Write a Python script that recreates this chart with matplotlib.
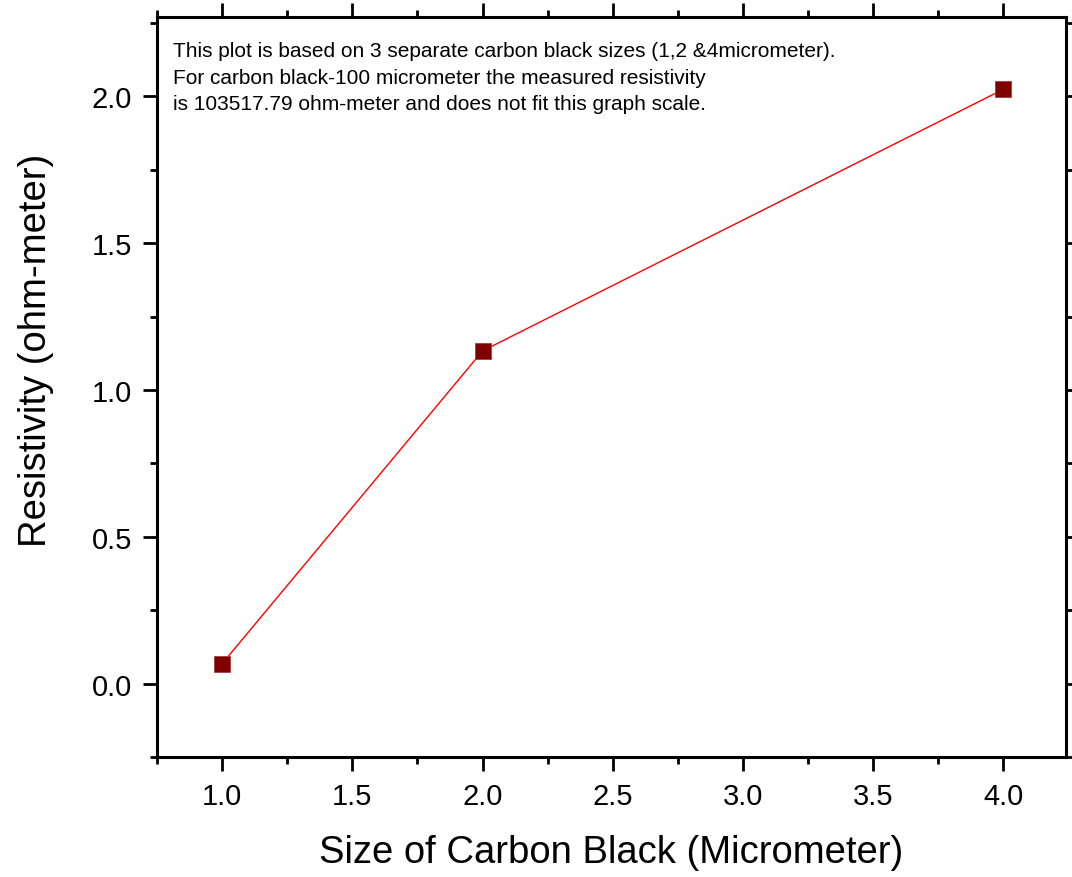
import matplotlib
matplotlib.use("Agg")
import matplotlib.pyplot as plt
from matplotlib.ticker import MultipleLocator, FormatStrFormatter

plt.rcParams['font.family'] = ['Liberation Sans', 'DejaVu Sans']

sizes = [1.0, 2.0, 4.0]
resistivity = [0.068, 1.133, 2.024]
x_ticks = [1.0, 1.5, 2.0, 2.5, 3.0, 3.5, 4.0]
y_ticks = [0.0, 0.5, 1.0, 1.5, 2.0]
note = ("This plot is based on 3 separate carbon black sizes (1,2 &4micrometer).\n"
        "For carbon black-100 micrometer the measured resistivity\n"
        "is 103517.79 ohm-meter and does not fit this graph scale.")

fig = plt.figure(figsize=(10.72, 8.78), dpi=100)
ax = fig.add_axes([0.1465, 0.1367, 0.9944 - 0.1465, 0.9795 - 0.1367])

ax.plot(sizes, resistivity, color='red', lw=1.0, zorder=2)
ax.plot(sizes, resistivity, ls='none', marker='s', ms=12, color='#800000',
        markeredgecolor='#a04040', markeredgewidth=0.6, zorder=3)

ax.set_xlim(0.75, 4.24)
ax.set_ylim(-0.25, 2.27)
ax.set_xticks(x_ticks)
ax.set_yticks(y_ticks)
ax.xaxis.set_minor_locator(MultipleLocator(0.25))
ax.yaxis.set_minor_locator(MultipleLocator(0.25))
ax.xaxis.set_major_formatter(FormatStrFormatter('%.1f'))
ax.yaxis.set_major_formatter(FormatStrFormatter('%.1f'))

for s in ax.spines.values():
    s.set_linewidth(2.2)
ax.tick_params(which='both', direction='out', top=True, right=True, width=2.0,
               labelsize=21)
ax.tick_params(which='major', length=10)
ax.tick_params(which='minor', length=5)
ax.tick_params(axis='x', which='major', pad=8)
ax.tick_params(axis='y', which='major', pad=8)

ax.set_xlabel('Size of Carbon Black (Micrometer)', fontsize=27.5)
ax.set_ylabel('Resistivity (ohm-meter)', fontsize=27.5)
ax.xaxis.set_label_coords(0.5, -0.104)
ax.yaxis.set_label_coords(-0.113, 0.551)

ax.text(0.018, 0.967, note, transform=ax.transAxes, fontsize=15,
        va='top', ha='left', linespacing=1.5)

fig.savefig('out.png', dpi=100)
